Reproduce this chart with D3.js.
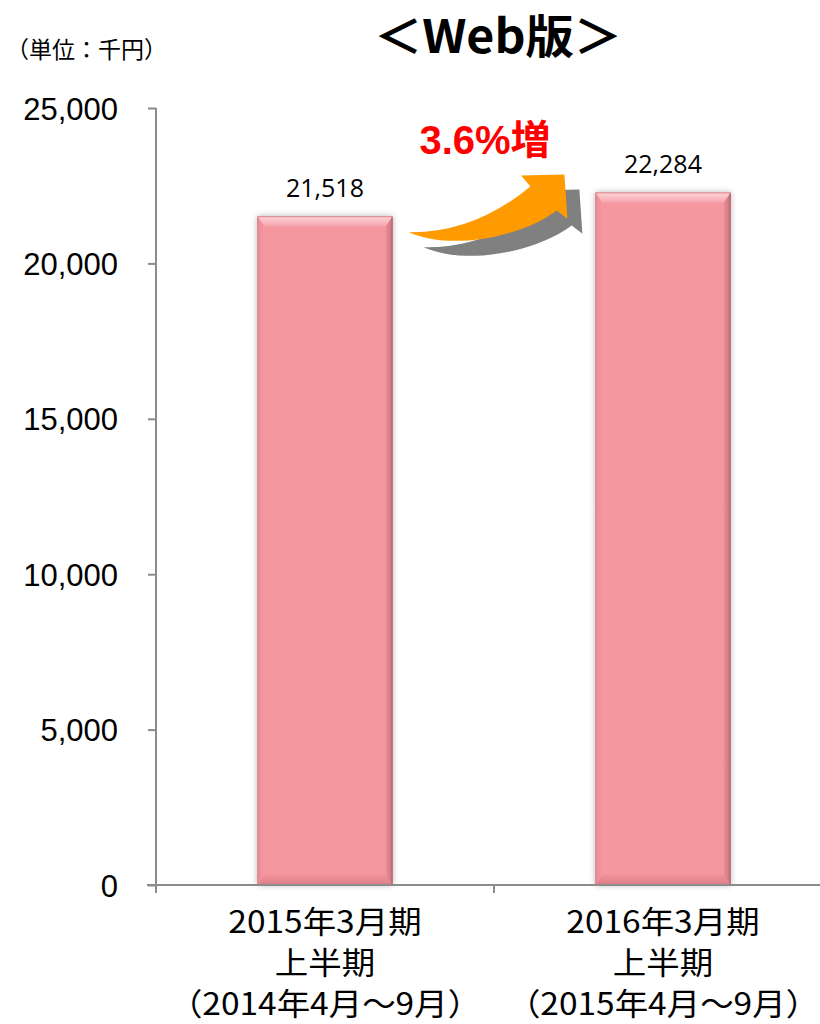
<!DOCTYPE html>
<html><head><meta charset="utf-8">
<script src="https://cdn.jsdelivr.net/npm/d3@7"></script>
<style>body{margin:0;background:#fff}svg{display:block}</style>
</head><body><svg id="c" width="820" height="1024"></svg>
<script>
const categories = ["2015年3月期|上半期|（2014年4月～9月）", "2016年3月期|上半期|（2015年4月～9月）"];
const values = [21518, 22284];
const valueLabels = ["21,518", "22,284"];
const yTicks = [0, 5000, 10000, 15000, 20000, 25000];
const yTickLabels = ["0", "5,000", "10,000", "15,000", "20,000", "25,000"];
const title = "＜Web版＞";
const unitLabel = "（単位：千円）";
const changeLabel = "3.6%増";

const svg = d3.select("#c");
const defs = svg.append("defs");
const x = d3.scaleBand().domain(categories).range([156, 832]).paddingInner(0.6).paddingOuter(0.3);
const y = d3.scaleLinear().domain([0, 25000]).range([885, 108]);
const bw = x.bandwidth();

// gradients
const gTop = defs.append("linearGradient").attr("id","gTop").attr("x1",0).attr("y1",0).attr("x2",0).attr("y2",1);
gTop.append("stop").attr("offset",0).attr("stop-color","#fcd6da");
gTop.append("stop").attr("offset",1).attr("stop-color","#f6a4ab");
const gBot = defs.append("linearGradient").attr("id","gBot").attr("x1",0).attr("y1",0).attr("x2",0).attr("y2",1);
gBot.append("stop").attr("offset",0).attr("stop-color","#f0909a");
gBot.append("stop").attr("offset",1).attr("stop-color","#dc7f88");
const gR = defs.append("linearGradient").attr("id","gR").attr("x1",0).attr("y1",0).attr("x2",1).attr("y2",0);
gR.append("stop").attr("offset",0).attr("stop-color","#ec8f98");
gR.append("stop").attr("offset",1).attr("stop-color","#c8727b");
const gL = defs.append("linearGradient").attr("id","gL").attr("x1",0).attr("y1",0).attr("x2",1).attr("y2",0);
gL.append("stop").attr("offset",0).attr("stop-color","#ea8c95");
gL.append("stop").attr("offset",1).attr("stop-color","#f5979f");
const sh = defs.append("filter").attr("id","sh").attr("x","-20%").attr("y","-5%").attr("width","140%").attr("height","110%");
sh.append("feGaussianBlur").attr("in","SourceAlpha").attr("stdDeviation",3).attr("result","b");
sh.append("feFlood").attr("flood-color","#000").attr("flood-opacity",0.3);
sh.append("feComposite").attr("in2","b").attr("operator","in").attr("result","s");
const m = sh.append("feMerge"); m.append("feMergeNode").attr("in","s"); m.append("feMergeNode").attr("in","SourceGraphic");

// axes
const yAxis = svg.append("g").attr("transform","translate(156,0)")
  .call(d3.axisLeft(y).tickValues(yTicks).tickFormat((d,i)=>yTickLabels[i]).tickSize(8).tickPadding(30));
yAxis.select(".domain").attr("stroke","#8c8c8c").attr("stroke-width",2).attr("d","M0,"+y(25000)+"V"+y(0));
yAxis.selectAll(".tick line").attr("stroke","#8c8c8c").attr("stroke-width",2);
yAxis.selectAll(".tick text").attr("font-family","Liberation Sans, Arial, sans-serif").attr("font-size",31)
  .attr("fill","#000").attr("dy","0.36em");

// bars
const bars = svg.append("g").selectAll("g").data(categories).join("g");
bars.each(function(c,i){
  const g = d3.select(this);
  const x0 = x(c), x1 = x0 + bw, y0 = y(values[i]), y1 = y(0);
  const b = 10, s = 7;
  g.append("rect").attr("x",x0).attr("y",y0).attr("width",bw).attr("height",y1-y0).attr("fill","#f5979f").attr("filter","url(#sh)");
  g.append("polygon").attr("points",[[x0,y0],[x0+s,y0+b],[x0+s,y1-b],[x0,y1]].join(" ")).attr("fill","url(#gL)");
  g.append("polygon").attr("points",[[x1,y0],[x1-s,y0+b],[x1-s,y1-b],[x1,y1]].join(" ")).attr("fill","url(#gR)");
  g.append("polygon").attr("points",[[x0,y0],[x1,y0],[x1-s,y0+b],[x0+s,y0+b]].join(" ")).attr("fill","url(#gTop)");
  g.append("polygon").attr("points",[[x0,y1],[x1,y1],[x1-s,y1-b],[x0+s,y1-b]].join(" ")).attr("fill","url(#gBot)");
  g.append("line").attr("x1",x1-0.5).attr("x2",x1-0.5).attr("y1",y0+1).attr("y2",y1).attr("stroke","#8e5057").attr("stroke-width",1.2);
  g.append("rect").attr("x",x0+0.5).attr("y",y0+0.5).attr("width",bw-1).attr("height",y1-y0-1).attr("fill","none").attr("stroke","#d9838c").attr("stroke-width",1);
  g.append("text").attr("x",x0+bw/2).attr("y",y0-19).attr("text-anchor","middle")
    .attr("font-family","Open Sans, sans-serif").attr("font-size",25).attr("fill","#000").text(valueLabels[i]);
});

// x axis
const xAxisG = svg.append("g");
xAxisG.append("line").attr("x1",147).attr("x2",820).attr("y1",y(0)).attr("y2",y(0)).attr("stroke","#8c8c8c").attr("stroke-width",2);
const bounds = [x.range()[0], x.range()[0] + x.step()];
bounds.forEach(bx => xAxisG.append("line").attr("x1",bx).attr("x2",bx).attr("y1",y(0)).attr("y2",y(0)+8).attr("stroke","#8c8c8c").attr("stroke-width",2));
categories.forEach(c => {
  const lines = c.split("|");
  const cx = x(c) + bw/2;
  lines.forEach((t,j) => {
    xAxisG.append("text").attr("transform","translate("+cx+","+(933 + j*41)+") scale(1.08,1)").attr("text-anchor","middle")
      .attr("font-family","Noto Sans CJK JP, sans-serif").attr("font-size",31).attr("fill","#000").text(t);
  });
});

// title & unit
svg.append("text").attr("transform","translate(498,53) scale(1.05,1)").attr("text-anchor","middle").attr("font-family","Noto Sans CJK JP, sans-serif")
  .attr("font-weight","bold").attr("font-size",46).attr("fill","#000").text(title);
svg.append("text").attr("x",6).attr("y",58).attr("font-family","Noto Sans CJK JP, sans-serif")
  .attr("font-size",23).attr("fill","#000").text(unitLabel);

// arrow annotation
const ax0 = x(categories[0]) + bw + 16, ax1 = x(categories[1]) + 4 - 32;
const ayTop = y(values[1]) - 18, ah = 68;
const P = (u,v) => [ax0 + u*(ax1-ax0), ayTop + v*ah];
const arrowPath = (dx,dy) => {
  const p = (u,v) => { const q = P(u,v); return (q[0]+dx)+","+(q[1]+dy); };
  return "M"+p(0,0.85)+"Q"+p(0.41,0.87)+" "+p(0.767,0.176)+"L"+p(0.708,0.015)+"L"+p(0.981,0)+"L"+p(1,0.651)+"L"+p(0.933,0.529)
    +"C"+p(0.695,0.94)+" "+p(0.256,1.118)+" "+p(0,0.85)+"Z";
};
svg.append("path").attr("d",arrowPath(15,15)).attr("fill","#808080");
svg.append("path").attr("d",arrowPath(0,0)).attr("fill","#ff9a00");
svg.append("text").attr("x",(ax0+ax1)/2 - 3).attr("y",154).attr("text-anchor","middle").attr("font-family","Liberation Sans, Noto Sans CJK JP, sans-serif")
  .attr("font-weight","bold").attr("font-size",40).attr("fill","#ff0000").text(changeLabel);
</script></body></html>
